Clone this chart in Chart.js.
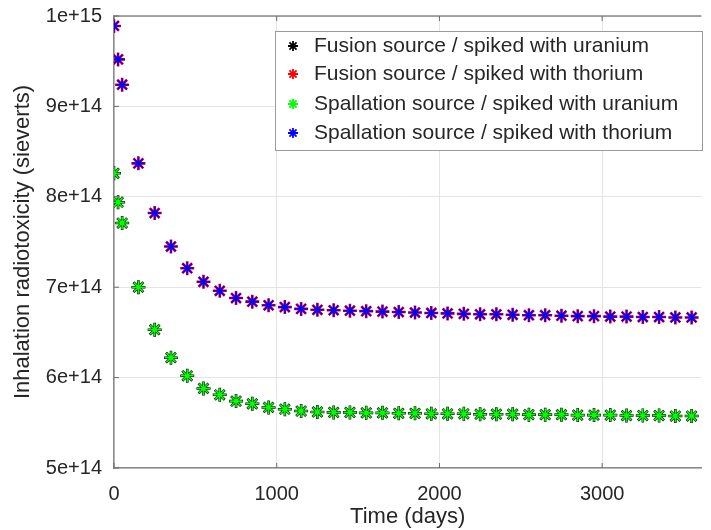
<!DOCTYPE html>
<html>
<head>
<meta charset="utf-8">
<script src="https://cdn.jsdelivr.net/npm/chart.js@4"></script>
<style>
  html, body { margin: 0; padding: 0; background: #fff; }
  #wrap { width: 711px; height: 530px; }
</style>
</head>
<body>
<div id="wrap"><canvas id="toxChart" width="711" height="530"></canvas></div>
<script>
// Time axis (days) and radiotoxicity values (in units of 1e14 Sv)
const days = [0, 25, 50, 150, 250, 350, 450, 550, 650, 750, 850, 950, 1050, 1150, 1250, 1350, 1450, 1550, 1650,
    1750, 1850, 1950, 2050, 2150, 2250, 2350, 2450, 2550, 2650, 2750, 2850, 2950, 3050, 3150, 3250, 3350, 3450, 3550];

const fusionUranium = [8.26, 7.94, 7.71, 7.00, 6.53, 6.22, 6.02, 5.88, 5.81, 5.74, 5.71, 5.67, 5.65, 5.63, 5.62, 5.615,
    5.615, 5.61, 5.61, 5.605, 5.605, 5.60, 5.60, 5.60, 5.595, 5.595, 5.595, 5.59, 5.59, 5.59, 5.585, 5.585, 5.585,
    5.58, 5.58, 5.58, 5.575, 5.575];
const fusionThorium = [9.89, 9.52, 9.24, 8.37, 7.82, 7.45, 7.21, 7.06, 6.96, 6.88, 6.84, 6.80, 6.78, 6.76, 6.75, 6.745,
    6.74, 6.735, 6.73, 6.725, 6.72, 6.715, 6.71, 6.705, 6.70, 6.70, 6.695, 6.69, 6.69, 6.685, 6.68, 6.68, 6.675,
    6.675, 6.67, 6.67, 6.665, 6.665];
const spallationUranium = [8.26, 7.94, 7.71, 7.00, 6.53, 6.22, 6.02, 5.88, 5.81, 5.74, 5.71, 5.67, 5.65, 5.63, 5.62, 5.615,
    5.615, 5.61, 5.61, 5.605, 5.605, 5.60, 5.60, 5.60, 5.595, 5.595, 5.595, 5.59, 5.59, 5.59, 5.585, 5.585, 5.585,
    5.58, 5.58, 5.58, 5.575, 5.575];
const spallationThorium = [9.89, 9.52, 9.24, 8.37, 7.82, 7.45, 7.21, 7.06, 6.96, 6.88, 6.84, 6.80, 6.78, 6.76, 6.75, 6.745,
    6.74, 6.735, 6.73, 6.725, 6.72, 6.715, 6.71, 6.705, 6.70, 6.70, 6.695, 6.69, 6.69, 6.685, 6.68, 6.68, 6.675,
    6.675, 6.67, 6.67, 6.665, 6.665];

const xTicks = [0, 1000, 2000, 3000];
const yTicks = [5e14, 6e14, 7e14, 8e14, 9e14, 1e15];

const seriesNames = [
    'Fusion source / spiked with uranium',
    'Fusion source / spiked with thorium',
    'Spallation source / spiked with uranium',
    'Spallation source / spiked with thorium'
];
const seriesColors = ['#000000', '#ff0000', '#00ff00', '#0000ff'];
const seriesValues = [fusionUranium, fusionThorium, spallationUranium, spallationThorium];

const FONT = '"Liberation Sans", Arial, Helvetica, sans-serif';
const TEXT = '#262626';
const AXIS = '#8a8a8a';

function toPoints(vals) {
    return vals.map((v, i) => ({ x: days[i], y: v * 1e14 }));
}

// the fusion series (black/red) sit underneath and show as a thin rim around green/blue
const datasets = seriesValues.map((vals, i) => ({
    label: seriesNames[i],
    data: toPoints(vals),
    showLine: false,
    pointStyle: 'star',
    pointRadius: i < 2 ? 7 : 6.5,
    pointBorderWidth: i < 2 ? 2.6 : 1.6,
    borderColor: seriesColors[i],
    backgroundColor: seriesColors[i],
    order: 4 - i
}));

// legend box + inward tick marks + top frame line, MATLAB style
const matlabDecor = {
    id: 'matlabDecor',
    afterDraw(chart) {
        const ctx = chart.ctx;
        const area = chart.chartArea;
        const xs = chart.scales.x, ys = chart.scales.y;
        ctx.save();

        // top frame
        ctx.strokeStyle = AXIS;
        ctx.lineWidth = 1.5;
        ctx.beginPath();
        ctx.moveTo(area.left, area.top);
        ctx.lineTo(area.right, area.top);
        ctx.stroke();

        // inward ticks
        ctx.lineWidth = 1;
        ctx.strokeStyle = '#6a6a6a';
        ctx.beginPath();
        xTicks.forEach(t => {
            const px = xs.getPixelForValue(t);
            ctx.moveTo(px, area.bottom); ctx.lineTo(px, area.bottom - 5);
            ctx.moveTo(px, area.top); ctx.lineTo(px, area.top + 5);
        });
        yTicks.forEach(t => {
            const py = ys.getPixelForValue(t);
            ctx.moveTo(area.left, py); ctx.lineTo(area.left + 5, py);
        });
        ctx.stroke();

        // legend
        const bx = 275, by = 31, bw = 427, bh = 119;
        ctx.fillStyle = '#ffffff';
        ctx.fillRect(bx, by, bw, bh);
        ctx.strokeStyle = '#9a9a9a';
        ctx.lineWidth = 1;
        ctx.strokeRect(bx + 0.5, by + 0.5, bw, bh);
        ctx.font = '21px ' + FONT;
        ctx.textBaseline = 'middle';
        ctx.textAlign = 'left';
        const rowY = [46, 74, 104, 133];
        seriesNames.forEach((name, i) => {
            ctx.strokeStyle = seriesColors[i];
            ctx.lineWidth = 1.8;
            Chart.helpers.drawPoint(ctx, { pointStyle: 'star', radius: 5, rotation: 0, borderWidth: 1.8 }, 293, rowY[i]);
            ctx.fillStyle = TEXT;
            ctx.fillText(name, 314, rowY[i]);
        });
        ctx.restore();
    }
};

new Chart(document.getElementById('toxChart'), {
    type: 'scatter',
    data: { datasets: datasets },
    options: {
        responsive: false,
        devicePixelRatio: 1,
        animation: false,
        layout: { padding: { top: 16, right: 0, left: 0, bottom: 0 } },
        plugins: {
            legend: { display: false },
            tooltip: { enabled: false }
        },
        scales: {
            x: {
                type: 'linear',
                min: 0,
                max: 3610,
                afterBuildTicks: (scale) => { scale.ticks = xTicks.map(v => ({ value: v })); },
                afterFit: (scale) => { scale.height = 62; scale.paddingLeft = 0; scale.paddingRight = 0; },
                ticks: {
                    color: TEXT,
                    font: { family: FONT, size: 20 },
                    padding: 14,
                    maxRotation: 0,
                    autoSkip: false,
                    callback: (v) => String(v)
                },
                grid: { color: '#e4e4e4', drawTicks: false },
                border: { color: AXIS, width: 1.5 },
                title: {
                    display: true,
                    text: 'Time (days)',
                    color: TEXT,
                    font: { family: FONT, size: 22 },
                    padding: { top: 0, bottom: 0 }
                }
            },
            y: {
                type: 'linear',
                min: 5e14,
                max: 1e15,
                afterBuildTicks: (scale) => { scale.ticks = yTicks.map(v => ({ value: v })); },
                afterFit: (scale) => { scale.width = 114; scale.paddingTop = 0; scale.paddingBottom = 0; },
                ticks: {
                    color: TEXT,
                    font: { family: FONT, size: 20 },
                    padding: 12,
                    callback: (v) => Number(v).toExponential(0)
                },
                grid: { color: '#e4e4e4', drawTicks: false },
                border: { color: AXIS, width: 1.5 },
                title: {
                    display: true,
                    text: 'Inhalation radiotoxicity (sieverts)',
                    color: TEXT,
                    font: { family: FONT, size: 22 },
                    padding: { top: 10, bottom: 0 }
                }
            }
        }
    },
    plugins: [matlabDecor]
});
</script>
</body>
</html>
